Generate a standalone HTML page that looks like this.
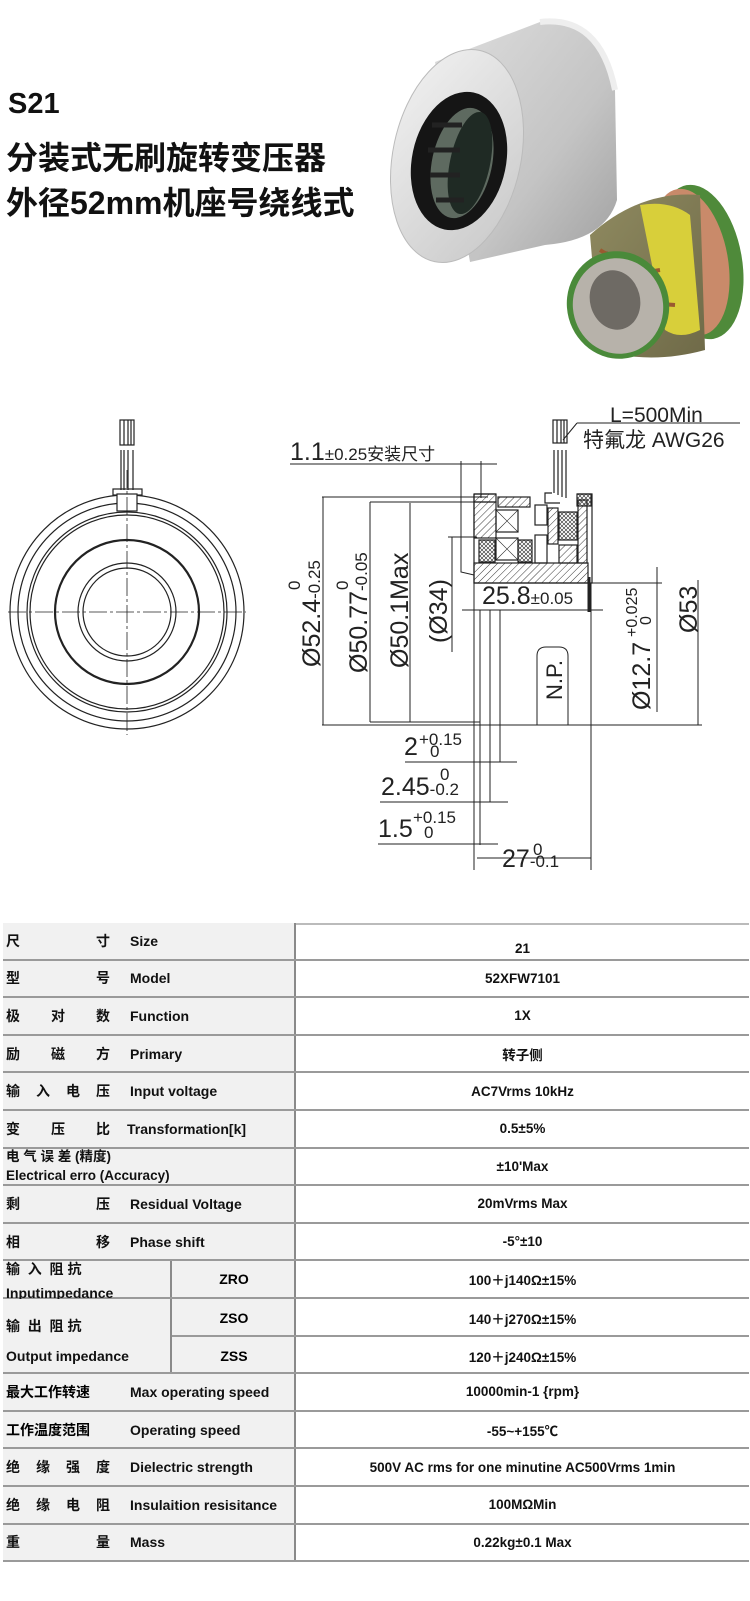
<!DOCTYPE html>
<html><head><meta charset="utf-8"><style>
body{margin:0;width:750px;height:1601px;position:relative;background:#fff;overflow:hidden;font-family:"Liberation Sans","Noto Sans CJK SC",sans-serif;}
.t{position:absolute;}
.row{position:absolute;left:3px;width:746px;height:37.6px;border-bottom:2px solid #9a9a9a;box-sizing:border-box;}
.lc{position:absolute;left:0;top:0;width:293px;height:100%;background:#f1f1f1;border-right:2px solid #8a8a8a;box-sizing:border-box;}
.cn{position:absolute;left:3px;width:104px;top:0;height:100%;display:flex;justify-content:space-between;align-items:center;font-size:14px;font-weight:bold;color:#111;}
.en{position:absolute;left:127px;top:0;height:100%;display:flex;align-items:center;font-size:14px;font-weight:bold;color:#111;}
.val{position:absolute;left:293px;right:0;top:0;height:100%;display:flex;align-items:center;justify-content:center;font-size:13.5px;font-weight:bold;color:#111;}
</style></head><body>

<!-- Title -->
<div class="t" style="left:8px;top:88px;font-size:29px;font-weight:bold;color:#111;">S21</div>
<div class="t" style="left:6px;top:133px;font-size:32px;font-weight:bold;color:#111;letter-spacing:0px;">分装式无刷旋转变压器</div>
<div class="t" style="left:6px;top:178px;font-size:32px;font-weight:bold;color:#111;">外径52mm机座号绕线式</div>

<!-- Photo -->
<svg class="t" style="left:0;top:0" width="750" height="390">
<defs>
<linearGradient id="sil" x1="0" y1="0" x2="1" y2="1"><stop offset="0" stop-color="#dedede"/><stop offset="0.6" stop-color="#c4c4c4"/><stop offset="1" stop-color="#a0a0a0"/></linearGradient>
<linearGradient id="face" x1="0" y1="0" x2="1" y2="1"><stop offset="0" stop-color="#f2f2f2"/><stop offset="1" stop-color="#c8c8c8"/></linearGradient>
<linearGradient id="olv" x1="0" y1="0" x2="1" y2="1"><stop offset="0" stop-color="#8f8a60"/><stop offset="1" stop-color="#6f6a48"/></linearGradient>
</defs>
<path d="M435 62 L540 22 Q600 15 615 90 L617 200 Q605 240 545 245 L470 262 Z" fill="url(#sil)"/>
<path d="M540 22 Q600 15 615 90" stroke="#eee" stroke-width="6" fill="none"/>
<ellipse cx="457" cy="156" rx="64" ry="108" transform="rotate(12 457 156)" fill="url(#face)" stroke="#bbb"/>
<ellipse cx="459" cy="161" rx="47" ry="70" transform="rotate(12 459 161)" fill="#151515"/>
<ellipse cx="462" cy="163" rx="30" ry="56" transform="rotate(12 462 163)" fill="#5e6a60"/>
<ellipse cx="470" cy="163" rx="20" ry="52" transform="rotate(12 470 163)" fill="#1f2a24"/>
<path d="M432 125h30M428 150h32M430 175h30M436 200h28" stroke="#222" stroke-width="5"/>
<ellipse cx="700" cy="262" rx="42" ry="78" transform="rotate(-10 700 262)" fill="#4f8a3a"/>
<ellipse cx="690" cy="262" rx="38" ry="74" transform="rotate(-10 690 262)" fill="#c98a6a"/>
<path d="M590 235 Q640 190 700 195 L705 350 Q650 365 600 350 Z" fill="url(#olv)"/>
<path d="M640 205 Q670 200 690 215 L700 330 Q680 340 665 330 Z" fill="#d8cf3a"/>
<path d="M600 250 Q615 260 640 260M600 280l60 -10M605 300l70 5M610 330l55 -5" stroke="#9a5a30" stroke-width="4"/>
<ellipse cx="618" cy="305" rx="51" ry="54" transform="rotate(-15 618 305)" fill="#4a8a3a"/>
<ellipse cx="618" cy="306" rx="45" ry="48" transform="rotate(-15 618 306)" fill="#b7b2aa"/>
<ellipse cx="615" cy="300" rx="25" ry="30" transform="rotate(-15 615 300)" fill="#6e6a64"/>
</svg>

<!-- Drawing -->
<svg class="t" style="left:0;top:0" width="750" height="900" font-family="Liberation Sans, Noto Sans CJK SC, sans-serif" fill="none" stroke="#222" stroke-width="1.2">
<defs>
<pattern id="h" width="5" height="5" patternUnits="userSpaceOnUse" patternTransform="rotate(45)"><line x1="0" y1="0" x2="0" y2="5" stroke="#222" stroke-width="0.9"/></pattern>
<pattern id="x" width="4" height="4" patternUnits="userSpaceOnUse"><path d="M0 0L4 4M4 0L0 4" stroke="#222" stroke-width="0.6"/></pattern>
</defs>
<!-- left view -->
<circle cx="127" cy="612" r="117"/>
<circle cx="127" cy="612" r="109"/>
<circle cx="127" cy="612" r="100"/>
<circle cx="127" cy="612" r="97"/>
<circle cx="127" cy="612" r="72" stroke-width="2.2"/>
<circle cx="127" cy="612" r="49"/>
<circle cx="127" cy="612" r="44"/>
<rect x="113" y="489" width="29" height="6" fill="#fff"/>
<rect x="117" y="494" width="20" height="17" fill="#fff"/>
<rect x="120" y="420" width="14" height="25"/>
<path d="M124 420v25M128 420v25M131 420v25M121 450v40M124 450v40M128 450v40M133 450v40"/>
<path d="M8 612H246M127 470V735" stroke-dasharray="18 3 3 3" stroke-width="0.8"/>
<!-- section view -->
<rect x="553" y="420" width="14" height="23"/>
<path d="M557 420v23M561 420v23M564 420v23M554 450v43M558 450v45M562 450v47M566 450v48"/>
<path d="M577 423H740M577 423L563 440" stroke-width="1"/>
<path d="M290 464H497M461 461V572L474 575M481 461V498" stroke-width="1"/>
<rect x="474" y="563" width="114" height="20" fill="url(#h)"/>
<rect x="474" y="502" width="22" height="36" fill="url(#h)"/>
<rect x="474" y="494" width="22" height="8" fill="url(#h)"/>
<rect x="498" y="497" width="32" height="10" fill="url(#h)"/>
<rect x="496" y="510" width="22" height="22"/>
<rect x="496" y="538" width="22" height="22"/>
<path d="M496 510l22 22M518 510l-22 22M496 538l22 22M518 538l-22 22" stroke-width="0.6"/>
<rect x="479" y="540" width="16" height="22" fill="url(#x)"/>
<rect x="518" y="540" width="14" height="22" fill="url(#x)"/>
<rect x="535" y="505" width="12" height="20"/>
<rect x="535" y="535" width="12" height="28"/>
<rect x="548" y="508" width="10" height="36" fill="url(#h)"/>
<rect x="559" y="512" width="18" height="28" fill="url(#x)"/>
<rect x="578" y="500" width="9" height="63" fill="url(#h)"/>
<rect x="577" y="494" width="14" height="12" fill="url(#x)"/>
<rect x="559" y="545" width="18" height="18" fill="url(#h)"/>
<path d="M474 494V583H592V494H577M474 494H496M552 493H545V503H560"/>
<path d="M589 577V612" stroke-width="3"/>
<!-- dims -->
<path d="M323 497V725M322 497H488M370 502V722M370 502H478M410 503V722M370 722H480M452 537V652M448 537H477M322 725H702" stroke-width="1"/>
<path d="M462 610H603M474 583V870M480 610V845M490 610V802M500 610V762M591 583V870" stroke-width="1"/>
<path d="M657 567V712M590 583H662M698 580V725" stroke-width="1"/>
<path d="M405 762H517M380 802H508M378 844H498M477 858H591" stroke-width="1"/>
<path d="M537 725V656Q537 647 546 647H559Q568 647 568 656V725" stroke-width="1"/>
<g fill="#222" stroke="none">
<text x="610" y="422" font-size="21">L=500Min</text>
<text x="583" y="447" font-size="21">特氟龙 AWG26</text>
<text x="290" y="460" font-size="25">1.1<tspan font-size="17">±0.25安装尺寸</tspan></text>
<text x="482" y="604" font-size="25">25.8<tspan font-size="17">±0.05</tspan></text>
<text transform="translate(320,667) rotate(-90)" font-size="25">Ø52.4<tspan font-size="17">-0.25</tspan></text>
<text transform="translate(300,590) rotate(-90)" font-size="17">0</text>
<text transform="translate(367,673) rotate(-90)" font-size="25">Ø50.77<tspan font-size="17">-0.05</tspan></text>
<text transform="translate(348,590) rotate(-90)" font-size="17">0</text>
<text transform="translate(408,668) rotate(-90)" font-size="25">Ø50.1Max</text>
<text transform="translate(447,643) rotate(-90)" font-size="25">(Ø34)</text>
<text transform="translate(650,710) rotate(-90)" font-size="25">Ø12.7</text>
<text transform="translate(637,637) rotate(-90)" font-size="16">+0.025</text>
<text transform="translate(651,625) rotate(-90)" font-size="16">0</text>
<text transform="translate(697,633) rotate(-90)" font-size="25">Ø53</text>
<text transform="translate(562,700) rotate(-90)" font-size="22">N.P.</text>
<text x="404" y="755" font-size="25">2</text><text x="419" y="745" font-size="17">+0.15</text><text x="430" y="757" font-size="17">0</text>
<text x="381" y="795" font-size="25">2.45<tspan font-size="17">-0.2</tspan></text><text x="440" y="780" font-size="17">0</text>
<text x="378" y="837" font-size="25">1.5</text><text x="413" y="823" font-size="17">+0.15</text><text x="424" y="838" font-size="17">0</text>
<text x="502" y="867" font-size="25">27<tspan font-size="17">-0.1</tspan></text><text x="533" y="855" font-size="17">0</text>
</g>
</svg>

<!-- Table -->
<div class="t" style="left:3px;top:923px;width:746px;border-top:2px solid #bbb;"></div>
<div class="row" style="top:923px"><div class="lc"></div><div class="cn"><span>尺</span><span>寸</span></div><div class="en" style="left:127px">Size</div><div class="val" style="top:8px">21</div></div>
<div class="row" style="top:960.6px"><div class="lc"></div><div class="cn"><span>型</span><span>号</span></div><div class="en">Model</div><div class="val">52XFW7101</div></div>
<div class="row" style="top:998.2px"><div class="lc"></div><div class="cn"><span>极</span><span>对</span><span>数</span></div><div class="en">Function</div><div class="val">1X</div></div>
<div class="row" style="top:1035.8px"><div class="lc"></div><div class="cn"><span>励</span><span>磁</span><span>方</span></div><div class="en">Primary</div><div class="val">转子侧</div></div>
<div class="row" style="top:1073.4px"><div class="lc"></div><div class="cn"><span>输</span><span>入</span><span>电</span><span>压</span></div><div class="en">Input voltage</div><div class="val">AC7Vrms 10kHz</div></div>
<div class="row" style="top:1111px"><div class="lc"></div><div class="cn"><span>变</span><span>压</span><span>比</span></div><div class="en" style="left:124px">Transformation[k]</div><div class="val">0.5±5%</div></div>
<div class="row" style="top:1148.6px"><div class="lc"></div><div class="t" style="left:3px;top:-2px;font-size:13.5px;font-weight:bold;line-height:19px;color:#111;">电 气 误 差 (精度)<br>Electrical erro (Accuracy)</div><div class="val">±10'Max</div></div>
<div class="row" style="top:1186.2px"><div class="lc"></div><div class="cn"><span>剩</span><span>压</span></div><div class="en">Residual Voltage</div><div class="val">20mVrms Max</div></div>
<div class="row" style="top:1223.8px"><div class="lc"></div><div class="cn"><span>相</span><span>移</span></div><div class="en">Phase shift</div><div class="val">-5°±10</div></div>
<div class="row" style="top:1261.4px"><div class="lc"></div><div class="t" style="left:3px;top:-4px;font-size:14px;font-weight:bold;line-height:24px;color:#111;">输&nbsp;&nbsp;入&nbsp;&nbsp;阻&nbsp;抗<br>Inputimpedance</div><div class="t" style="left:167px;top:0;width:2px;height:100%;background:#8a8a8a"></div><div class="t" style="left:169px;width:124px;top:0;height:100%;display:flex;align-items:center;justify-content:center;font-size:14px;font-weight:bold">ZRO</div><div class="val">100＋j140Ω±15%</div></div>
<div class="row" style="top:1299px;height:75.2px;border-bottom:2px solid #9a9a9a"><div class="lc"></div><div class="t" style="left:3px;top:12px;font-size:14px;font-weight:bold;line-height:30px;color:#111;">输&nbsp;&nbsp;出&nbsp;&nbsp;阻&nbsp;抗<br>Output impedance</div><div class="t" style="left:167px;top:0;width:2px;height:100%;background:#8a8a8a"></div><div class="t" style="left:169px;top:36px;width:124px;height:2px;background:#9a9a9a"></div><div class="t" style="left:169px;width:124px;top:0;height:37px;display:flex;align-items:center;justify-content:center;font-size:14px;font-weight:bold">ZSO</div><div class="t" style="left:169px;width:124px;top:38px;height:37px;display:flex;align-items:center;justify-content:center;font-size:14px;font-weight:bold">ZSS</div>
<div class="t" style="left:293px;right:0;top:36px;height:2px;background:#9a9a9a"></div>
<div class="val" style="height:37px">140＋j270Ω±15%</div><div class="val" style="top:38px;height:37px">120＋j240Ω±15%</div></div>
<div class="row" style="top:1374.2px"><div class="lc"></div><div class="t" style="left:3px;top:0;height:100%;display:flex;align-items:center;font-size:14px;font-weight:bold">最大工作转速</div><div class="en">Max operating speed</div><div class="val">10000min-1 {rpm}</div></div>
<div class="row" style="top:1411.8px"><div class="lc"></div><div class="t" style="left:3px;top:0;height:100%;display:flex;align-items:center;font-size:14px;font-weight:bold">工作温度范围</div><div class="en">Operating speed</div><div class="val">-55~+155℃</div></div>
<div class="row" style="top:1449.4px"><div class="lc"></div><div class="cn"><span>绝</span><span>缘</span><span>强</span><span>度</span></div><div class="en">Dielectric strength</div><div class="val">500V AC rms for one minutine AC500Vrms 1min</div></div>
<div class="row" style="top:1487px"><div class="lc"></div><div class="cn"><span>绝</span><span>缘</span><span>电</span><span>阻</span></div><div class="en">Insulaition resisitance</div><div class="val">100MΩMin</div></div>
<div class="row" style="top:1524.6px"><div class="lc"></div><div class="cn"><span>重</span><span>量</span></div><div class="en">Mass</div><div class="val">0.22kg±0.1 Max</div></div>
</body></html>
